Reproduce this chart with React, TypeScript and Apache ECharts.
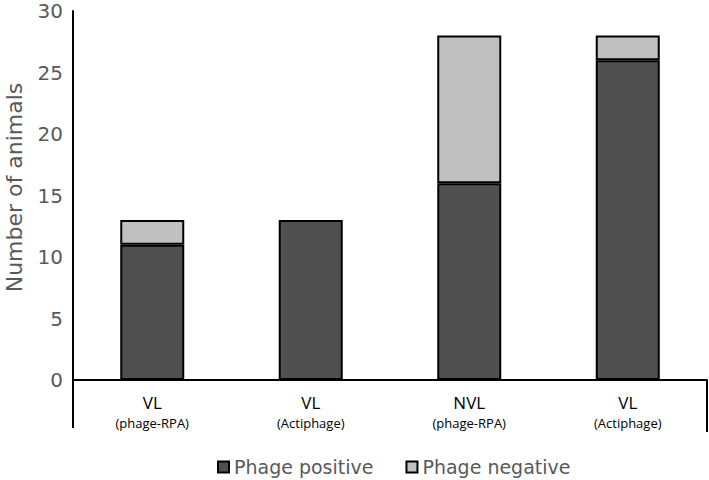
import React, { useEffect, useRef } from "react";
import * as echarts from "echarts";

const groups = ["VL", "VL", "NVL", "VL"];
const methods = ["(phage-RPA)", "(Actiphage)", "(phage-RPA)", "(Actiphage)"];
const phagePositive = [11, 13, 16, 26];
const phageNegative = [2, 0, 12, 2];
const seriesNames = ["Phage positive", "Phage negative"];

export default function App() {
  const ref = useRef<HTMLDivElement>(null);
  useEffect(() => {
    if (!ref.current) return;
    const chart = echarts.init(ref.current, null, { renderer: "svg" });
    const categories = groups.map((g, i) => `${g}\n${methods[i]}`);
    chart.setOption({
      animation: false,
      backgroundColor: "#ffffff",
      grid: { left: 73, right: 2, top: 11, bottom: 100, outerBoundsMode: "none", containLabel: false },
      legend: {
        left: 212,
        top: 452,
        icon: "rect",
        itemWidth: 11,
        itemHeight: 11,
        itemGap: 32,
        textStyle: { fontFamily: "DejaVu Sans", fontSize: 19, color: "#595959", lineHeight: 20 },
        data: seriesNames,
      },
      xAxis: {
        type: "category",
        data: categories,
        axisLine: { lineStyle: { color: "#000", width: 2 } },
        axisTick: { show: false },
        axisLabel: {
          margin: 12,
          formatter: (v: string) => {
            const [a, b] = v.split("\n");
            return `{a|${a}}\n{b|${b}}`;
          },
          rich: {
            a: { fontFamily: "Open Sans", fontSize: 17, color: "#000", lineHeight: 21 },
            b: { fontFamily: "Open Sans", fontSize: 13, color: "#000", lineHeight: 20 },
          },
        },
      },
      yAxis: {
        type: "value",
        min: 0,
        max: 30,
        interval: 5,
        name: "Number of animals",
        nameLocation: "middle",
        nameGap: 48,
        nameTextStyle: { fontFamily: "DejaVu Sans", fontSize: 22, color: "#595959", padding: [0, 0, 0, 16] },
        axisLine: { show: true, lineStyle: { color: "#000", width: 2 } },
        axisTick: { show: false },
        splitLine: { show: false },
        axisLabel: { fontFamily: "DejaVu Sans", fontSize: 20, color: "#595959", margin: 10, lineHeight: 20 },
      },
      graphic: [
        { type: "line", shape: { x1: 73, y1: 380, x2: 73, y2: 428 }, style: { stroke: "#000", lineWidth: 2 } },
        { type: "line", shape: { x1: 707, y1: 380, x2: 707, y2: 432 }, style: { stroke: "#000", lineWidth: 2 } },
      ],
      series: [
        {
          name: seriesNames[0],
          type: "bar",
          stack: "total",
          barWidth: 64,
          data: phagePositive,
          itemStyle: { color: "#505050", borderColor: "#000", borderWidth: 2 },
        },
        {
          name: seriesNames[1],
          type: "bar",
          stack: "total",
          barWidth: 64,
          data: phageNegative.map((v) => (v === 0 ? null : v)),
          itemStyle: { color: "#c0c0c0", borderColor: "#000", borderWidth: 2 },
        },
      ],
    });
    return () => chart.dispose();
  }, []);
  return <div ref={ref} style={{ width: 709, height: 480, position: "absolute", left: 0, top: 0 }} />;
}
